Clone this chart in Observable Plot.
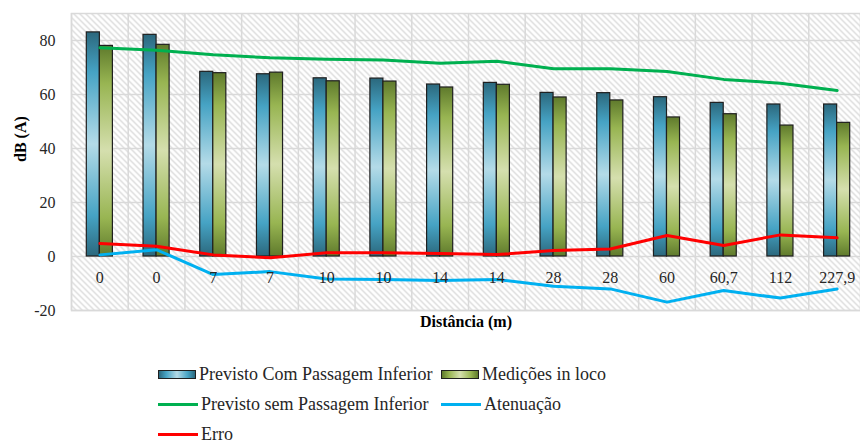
<!DOCTYPE html>
<html>
<head>
<meta charset="utf-8">
<script src="https://cdn.jsdelivr.net/npm/d3@7"></script>
<script src="https://cdn.jsdelivr.net/npm/@observablehq/plot@0.6"></script>
<style>
  html, body { margin: 0; padding: 0; background: #fff; overflow: hidden; }
  #chart svg { display: block; }
  #chart svg text { font-family: "Liberation Serif", "Times New Roman", Tinos, "DejaVu Serif", serif; }
  .legend { font-family: "Liberation Serif", "Times New Roman", Tinos, "DejaVu Serif", serif; font-size: 18px; line-height: 1.1; color: #262626; padding-left: 158px; margin-top: 20px; }
  .legend .row { display: flex; align-items: center; height: 30px; }
  .legend .item { display: flex; align-items: center; }
  .legend .sw { width: 38px; height: 9px; border: 1px solid #1f1f1f; box-sizing: border-box; margin-right: 3px; }
  .legend .ln { width: 40px; height: 3px; margin-right: 3px; }
</style>
</head>
<body>
<div id="chart"></div>
<div class="legend">
  <div class="row">
    <div class="item" style="width:283px"><div class="sw" style="background:linear-gradient(90deg,#2b687d,#46a3c4 20%,#b4dbe8 50%,#46a3c4 80%,#2b687d)"></div>Previsto Com Passagem Inferior</div>
    <div class="item"><div class="sw" style="background:linear-gradient(90deg,#5f7a2c,#98b552 20%,#d5dfae 50%,#98b552 80%,#5f7a2c)"></div>Medições in loco</div>
  </div>
  <div class="row">
    <div class="item" style="width:283px"><div class="ln" style="background:#00b050"></div>Previsto sem Passagem Inferior</div>
    <div class="item"><div class="ln" style="background:#00b0f0"></div>Atenuação</div>
  </div>
  <div class="row">
    <div class="item"><div class="ln" style="background:#ff0000"></div>Erro</div>
  </div>
</div>
<script>
const distances = ["0","0","7","7","10","10","14","14","28","28","60","60,7","112","227,9"];
const previstoCom = [83, 82.1, 68.4, 67.5, 66, 65.9, 63.7, 64.3, 60.6, 60.5, 59, 56.9, 56.3, 56.3];
const medicoes = [78, 78.4, 67.9, 68.1, 64.9, 64.8, 62.6, 63.6, 58.9, 57.8, 51.5, 52.7, 48.5, 49.5];
const previstoSem = [77.3, 76.4, 74.7, 73.6, 73.1, 72.8, 71.6, 72.3, 69.5, 69.5, 68.5, 65.6, 64.2, 61.5];
const atenuacao = [0.6, 2.5, -6.7, -5.6, -8.3, -8.5, -8.9, -8.5, -11, -12, -16.9, -12.6, -15.4, -12];
const erro = [4.8, 3.8, 0.6, -0.5, 1.4, 1.4, 1.1, 0.7, 2.2, 2.8, 7.8, 4.1, 8, 6.9];
const yTicks = [-20, 0, 20, 40, 60, 80];

const idx = distances.map((d, i) => i);
const barW = 0.23;
const rows = idx.map(i => ({i, c: i + 0.5, d: distances[i], com: previstoCom[i], med: medicoes[i], sem: previstoSem[i], at: atenuacao[i], er: erro[i]}));
const bounds = d3.range(distances.length + 1);

const svg = Plot.plot({
  width: 860,
  height: 340,
  marginLeft: 71,
  marginRight: 0,
  marginTop: 13,
  marginBottom: 30,
  style: {fontSize: "16px", color: "#262626", background: "#fff"},
  x: {type: "linear", domain: [0, distances.length], range: [71, 865], axis: null},
  y: {domain: [-20, 90], axis: null},
  marks: [
    Plot.frame({fill: "url(#hatch)", stroke: "#d9d9d9", strokeWidth: 1.5}),
    Plot.gridY(yTicks, {stroke: "#d9d9d9", strokeOpacity: 1, strokeWidth: 1.5}),
    Plot.ruleX(bounds, {x: d => d, stroke: "#d9d9d9", strokeWidth: 1.5}),
    Plot.axisY(yTicks, {tickSize: 0, tickPadding: 16, label: null, fontSize: 16, fill: "#262626", tickFormat: d => String(d)}),
    Plot.rectY(rows, {x1: d => d.c - barW, x2: d => d.c, y1: 0, y2: "com", fill: "url(#gBlue)", stroke: "#1f1f1f", strokeWidth: 1.2}),
    Plot.rectY(rows, {x1: d => d.c, x2: d => d.c + barW, y1: 0, y2: "med", fill: "url(#gGreen)", stroke: "#1f1f1f", strokeWidth: 1.2}),
    Plot.lineY(rows, {x: "c", y: "sem", stroke: "#00b050", strokeWidth: 3}),
    Plot.lineY(rows, {x: "c", y: "er", stroke: "#ff0000", strokeWidth: 3}),
    Plot.lineY(rows, {x: "c", y: "at", stroke: "#00b0f0", strokeWidth: 3}),
    Plot.text(rows, {x: "c", y: () => 0, dy: 21, text: "d", fontSize: 16, fill: "#262626"}),
    Plot.text(["dB (A)"], {frameAnchor: "left", dx: -51, rotate: -90, fontWeight: "bold", fontSize: 16, fill: "#000"}),
    Plot.text(["Distância (m)"], {frameAnchor: "bottom", dy: 16, fontWeight: "bold", fontSize: 16, fill: "#000"})
  ]
});

svg.insertAdjacentHTML("afterbegin", `
<defs>
  <pattern id="hatch" patternUnits="userSpaceOnUse" width="6" height="6">
    <rect width="6" height="6" fill="#ffffff"/>
    <path d="M0,0 L6,6 M-1,5 L1,7 M5,-1 L7,1" stroke="#cfcfcf" stroke-width="1.1"/>
  </pattern>
  <linearGradient id="gBlue" x1="0" y1="0" x2="0" y2="1">
    <stop offset="0" stop-color="#2b687d"/>
    <stop offset="0.18" stop-color="#46a3c4"/>
    <stop offset="0.5" stop-color="#b4dbe8"/>
    <stop offset="0.82" stop-color="#46a3c4"/>
    <stop offset="1" stop-color="#2b687d"/>
  </linearGradient>
  <linearGradient id="gGreen" x1="0" y1="0" x2="0" y2="1">
    <stop offset="0" stop-color="#5f7a2c"/>
    <stop offset="0.18" stop-color="#98b552"/>
    <stop offset="0.5" stop-color="#d5dfae"/>
    <stop offset="0.82" stop-color="#98b552"/>
    <stop offset="1" stop-color="#5f7a2c"/>
  </linearGradient>
</defs>`);

document.getElementById("chart").appendChild(svg);
</script>
</body>
</html>
